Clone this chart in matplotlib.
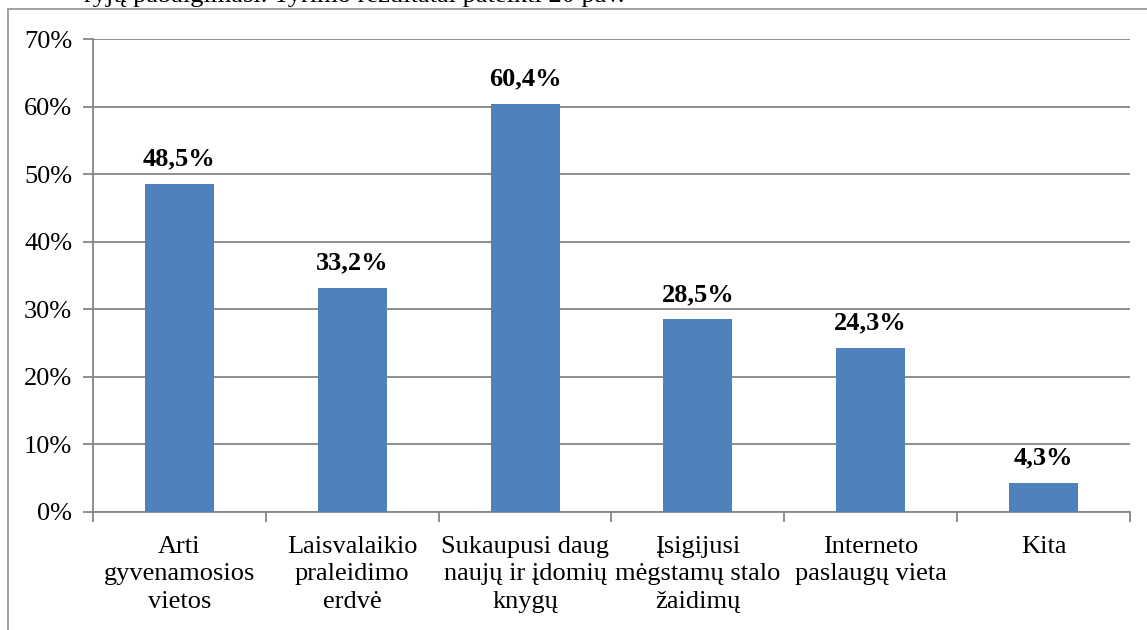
import numpy as np
import matplotlib.pyplot as plt
from matplotlib.lines import Line2D

categories = ['Arti\ngyvenamosios\nvietos',
              'Laisvalaikio\npraleidimo\nerdvė',
              'Sukaupusi daug\nnaujų ir įdomių\nknygų',
              'Įsigijusi\nmėgstamų stalo\nžaidimų',
              'Interneto\npaslaugų vieta',
              'Kita']
values = [48.5, 33.2, 60.4, 28.5, 24.3, 4.3]
value_labels = ['48,5%', '33,2%', '60,4%', '28,5%', '24,3%', '4,3%']
yticks = [0, 10, 20, 30, 40, 50, 60, 70]

plt.rcParams['font.family'] = ['Liberation Serif', 'DejaVu Serif']
fs = 19

fig = plt.figure(figsize=(11.47, 6.3), dpi=100)
ax = fig.add_axes([93/1147, 1-512/630, 1037/1147, 473/630])

x = np.arange(len(values))
ax.bar(x, values, width=0.4, color='#4F81BD', zorder=3)

for xi, v, lab in zip(x, values, value_labels):
    ax.text(xi, v + 2.0, lab, ha='center', va='bottom',
            fontsize=fs, fontweight='bold')

ax.set_xlim(-0.5, len(values) - 0.5)
ax.set_ylim(0, 70)
ax.set_yticks(yticks)
ax.set_yticklabels([f'{t}%' for t in yticks], fontsize=fs)
ax.yaxis.grid(True, color='#868686', linewidth=1.3, zorder=0)

# category labels, ticks at the boundaries
ax.set_xticks(x)
ax.set_xticklabels(categories, fontsize=fs, linespacing=1.33)
ax.tick_params(axis='x', length=0, pad=17)
ax.set_xticks(np.arange(-0.5, len(values)), minor=True)
ax.tick_params(axis='x', which='minor', length=7, color='#868686', width=1.3)
ax.tick_params(axis='y', length=7, color='#868686', width=1.3, pad=8)

for s in ['top', 'right']:
    ax.spines[s].set_visible(False)
for s in ['left', 'bottom']:
    ax.spines[s].set_color('#868686')
    ax.spines[s].set_linewidth(1.3)

# outer chart frame (only top and left visible)
fig.add_artist(Line2D([8/1147, 8/1147], [0, 1-9/630], color='#9a9a9a', lw=1.3))
fig.add_artist(Line2D([8/1147, 1], [1-9/630, 1-9/630], color='#9a9a9a', lw=1.3))

# clipped body text above the chart
fig.text(625/1147, 1-2/630, 'ryjų pabaigimasi. Tyrimo rezultatai pateikti 20 pav.',
         ha='right', va='baseline', fontsize=fs)

plt.savefig('out.png', dpi=100)
